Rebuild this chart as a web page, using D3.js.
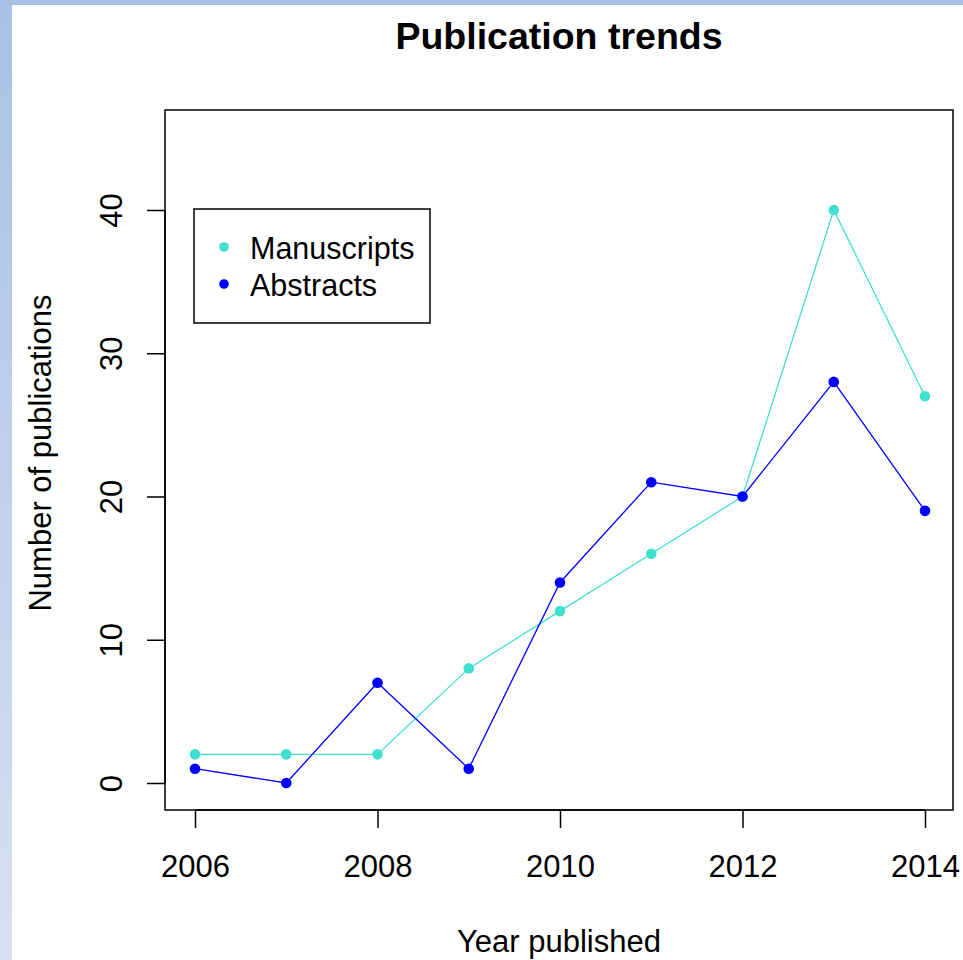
<!DOCTYPE html>
<html>
<head>
<meta charset="utf-8">
<script src="https://cdn.jsdelivr.net/npm/d3@7"></script>
<style>
  html, body { margin: 0; padding: 0; background: #fff; }
  svg { display: block; }
  text { font-family: "Liberation Sans", Arial, sans-serif; fill: #000; }
</style>
</head>
<body>
<div id="chart"></div>
<script>
// Publication counts per year
const years = [2006, 2007, 2008, 2009, 2010, 2011, 2012, 2013, 2014];
const manuscripts = [2, 2, 2, 8, 12, 16, 20, 40, 27];
const abstracts = [1, 0, 7, 1, 14, 21, 20, 28, 19];
const xTicks = [2006, 2008, 2010, 2012, 2014];
const yTicks = [0, 10, 20, 30, 40];
const seriesNames = ["Manuscripts", "Abstracts"];
const seriesColors = ["#40E0D0", "#0000FF"];

const W = 963, H = 960;
const FONT = "Liberation Sans, Arial, sans-serif";
const svg = d3.select("#chart").append("svg").attr("width", W).attr("height", H);

// window frame accents
const defs = svg.append("defs");
const grad = defs.append("linearGradient").attr("id", "frameGrad")
  .attr("x1", 0).attr("y1", 0).attr("x2", 0).attr("y2", 1);
grad.append("stop").attr("offset", "0%").attr("stop-color", "#a9c1e6");
grad.append("stop").attr("offset", "100%").attr("stop-color", "#d6e0f1");
svg.append("rect").attr("x", 0).attr("y", 0).attr("width", 12).attr("height", H).attr("fill", "url(#frameGrad)");
svg.append("rect").attr("x", 0).attr("y", 0).attr("width", W).attr("height", 5).attr("fill", "#a9c1e6");

const box = { left: 165, top: 110, right: 953, bottom: 810 };

const x = d3.scaleLinear().domain([2006, 2014]).range([195, 925]);
const y = d3.scaleLinear().domain([0, 40]).range([783, 210]);

// plot frame
svg.append("rect")
  .attr("x", box.left).attr("y", box.top)
  .attr("width", box.right - box.left).attr("height", box.bottom - box.top)
  .attr("fill", "none").attr("stroke", "#000").attr("stroke-width", 1.5);

// x axis
const xAxis = svg.append("g").attr("transform", `translate(0,${box.bottom})`)
  .call(d3.axisBottom(x).tickValues(xTicks).tickFormat(d3.format("d")).tickSize(18));
xAxis.select(".domain").attr("d", `M${x(2006)},0H${x(2014)}`).attr("stroke-width", 1.5);
xAxis.selectAll(".tick line").attr("stroke-width", 1.5);
xAxis.selectAll(".tick text").attr("y", 67).attr("dy", null)
  .style("font-size", "31px").style("font-family", FONT);

// y axis
const yAxis = svg.append("g").attr("transform", `translate(${box.left},0)`)
  .call(d3.axisLeft(y).tickValues(yTicks).tickSize(18));
yAxis.select(".domain").attr("d", `M0,${y(0)}V${y(40)}`).attr("stroke-width", 1.5);
yAxis.selectAll(".tick line").attr("stroke-width", 1.5);
yAxis.selectAll(".tick text")
  .attr("x", 0).attr("dy", null)
  .attr("transform", "translate(-43,0) rotate(-90)")
  .attr("text-anchor", "middle")
  .style("font-size", "31px").style("font-family", FONT);

// series lines and points
const series = [manuscripts, abstracts];
const line = d3.line().x((d, i) => x(years[i])).y(d => y(d));
series.forEach((vals, s) => {
  svg.append("path").datum(vals)
    .attr("d", line).attr("fill", "none")
    .attr("stroke", seriesColors[s]).attr("stroke-width", 1.3);
  svg.selectAll(null).data(vals).enter().append("circle")
    .attr("cx", (d, i) => x(years[i])).attr("cy", d => y(d))
    .attr("r", 5.3).attr("fill", seriesColors[s]);
});

// titles
svg.append("text").attr("x", 559).attr("y", 49).attr("text-anchor", "middle")
  .style("font-size", "37.5px").style("font-weight", "bold").text("Publication trends");
svg.append("text").attr("x", 559).attr("y", 952).attr("text-anchor", "middle")
  .style("font-size", "31px").text("Year published");
svg.append("text").attr("transform", "translate(51,453) rotate(-90)").attr("text-anchor", "middle")
  .style("font-size", "31px").text("Number of publications");

// legend
const lg = svg.append("g");
lg.append("rect").attr("x", 194).attr("y", 209).attr("width", 236).attr("height", 114)
  .attr("fill", "#fff").attr("stroke", "#000").attr("stroke-width", 1.5);
seriesNames.forEach((name, i) => {
  const cy = 247 + i * 37;
  lg.append("circle").attr("cx", 224).attr("cy", cy).attr("r", 4.8).attr("fill", seriesColors[i]);
  lg.append("text").attr("x", 250).attr("y", cy + 12).style("font-size", "30.5px").text(name);
});
</script>
</body>
</html>
